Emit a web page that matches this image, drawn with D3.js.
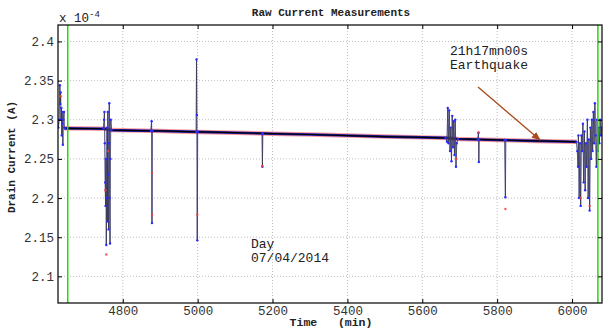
<!DOCTYPE html>
<html lang="en">
<head>
  <meta charset="UTF-8" />
  <title>Raw Current Measurements</title>
  <style>
    body { margin: 0; background: #fff; }
    svg { display: block; }
    text { font-family: "Liberation Mono", "DejaVu Sans Mono", monospace; fill: #222; }
    .grid line { stroke: #bdbdbd; stroke-dasharray: 1,2; stroke-width: 1; }
    .axis text { font-size: 12.5px; fill: #333; }
    .axis line { stroke: #000; }
  </style>
</head>
<body>
  <svg id="chart" width="604" height="329"></svg>

  <script src="https://d3js.org/d3.v7.min.js"></script>
  <script>
    const width = 604;
    const height = 329;
    const margin = { top: 25, right: 1, bottom: 26, left: 58 };

    // tick values (current in units of 1e-4 A)
    const xTicks = [4800, 5000, 5200, 5400, 5600, 5800, 6000];
    const yTicks = [2.1, 2.15, 2.2, 2.25, 2.3, 2.35, 2.4];
    const markerTimes = [4653, 6069]; // green vertical lines

    // slow drift of the trace
    const baseTime = [4644, 4700, 4750, 4770, 4800, 4900, 5000, 5100, 5200, 5300, 5400, 5500, 5600, 5665, 5695, 5800, 5900, 6000, 6012];
    const baseCurrent = [2.289, 2.2888, 2.2885, 2.2868, 2.2865, 2.2857, 2.2845, 2.2835, 2.2822, 2.2812, 2.2798, 2.2785, 2.2775, 2.2768, 2.2755, 2.2742, 2.2730, 2.2720, 2.2718];

    // bursts of raw samples [time, current]
    const burstStart = [[4628, 2.29], [4630, 2.30], [4632, 2.344], [4633, 2.32], [4634, 2.335], [4635, 2.30], [4636, 2.315], [4637, 2.28], [4638, 2.31], [4639, 2.295], [4640, 2.268], [4641, 2.30], [4643, 2.31], [4644, 2.29], [4646, 2.289]];
    const burst4760 = [[4748, 2.289], [4750, 2.30], [4751, 2.31], [4752, 2.27], [4753, 2.22], [4754, 2.19], [4755, 2.25], [4756, 2.14], [4757, 2.20], [4758, 2.29], [4759, 2.17], [4760, 2.31], [4761, 2.23], [4762, 2.16], [4763, 2.27], [4764, 2.321], [4765, 2.20], [4766, 2.142], [4767, 2.25], [4768, 2.30], [4770, 2.287]];
    const burst4877 = [[4875, 2.2858], [4877, 2.298], [4878, 2.168], [4879, 2.2857]];
    const burst4998 = [[4996, 2.2846], [4997, 2.377], [4998, 2.306], [4999, 2.146], [5000, 2.2845]];
    const burst5173 = [[5172, 2.2825], [5173, 2.24], [5174, 2.2825]];
    const burst5680 = [[5662, 2.2768], [5666, 2.272], [5668, 2.315], [5670, 2.27], [5672, 2.312], [5674, 2.26], [5676, 2.29], [5678, 2.247], [5680, 2.305], [5682, 2.265], [5684, 2.298], [5686, 2.255], [5688, 2.30], [5690, 2.24], [5692, 2.27], [5695, 2.2755]];
    const burst5750 = [[5748, 2.2748], [5750, 2.283], [5751, 2.246], [5752, 2.2747]];
    const burst5822 = [[5820, 2.2741], [5822, 2.201], [5823, 2.2740]];
    const burstEnd = [[6012, 2.2718], [6014, 2.26], [6016, 2.24], [6017, 2.28], [6019, 2.20], [6021, 2.27], [6023, 2.19], [6025, 2.28], [6027, 2.26], [6029, 2.295], [6031, 2.22], [6033, 2.285], [6035, 2.21], [6037, 2.27], [6039, 2.24], [6041, 2.30], [6043, 2.20], [6045, 2.275], [6047, 2.184], [6049, 2.29], [6051, 2.25], [6053, 2.30], [6055, 2.26], [6057, 2.31], [6059, 2.27], [6061, 2.321], [6063, 2.28], [6065, 2.24], [6067, 2.30], [6069, 2.26], [6071, 2.29], [6073, 2.27], [6075, 2.30], [6077, 2.28], [6079, 2.29]];
    const bursts = [burstStart, burst4760, burst4877, burst4998, burst5173, burst5680, burst5750, burst5822, burstEnd];

    // red samples that stick out of the bursts
    const redSamples = [[4756, 2.128], [4753, 2.21], [4761, 2.26], [4878, 2.179], [4878, 2.232], [4999, 2.179], [5173, 2.241], [5750, 2.284], [5822, 2.186], [5690, 2.25], [6047, 2.19], [6023, 2.20], [4634, 2.33]];

    const svg = d3.select("#chart");
    const x = d3.scaleLinear().domain([4627, 6080]).range([margin.left, width - margin.right - 1]);
    const y = d3.scaleLinear().domain([2.066, 2.421]).range([height - margin.bottom, margin.top]);

    const plotL = x.range()[0], plotR = x.range()[1];
    const plotT = y.range()[1], plotB = y.range()[0];

    // grid
    const grid = svg.append("g").attr("class", "grid");
    grid.selectAll(".gx").data(xTicks).enter().append("line")
      .attr("x1", d => x(d)).attr("x2", d => x(d)).attr("y1", plotT).attr("y2", plotB);
    grid.selectAll(".gy").data(yTicks).enter().append("line")
      .attr("x1", plotL).attr("x2", plotR).attr("y1", d => y(d)).attr("y2", d => y(d));

    svg.append("clipPath").attr("id", "clip").append("rect")
      .attr("x", plotL).attr("y", plotT).attr("width", plotR - plotL).attr("height", plotB - plotT);
    const plot = svg.append("g").attr("clip-path", "url(#clip)");

    const line = d3.line().x(d => x(d[0])).y(d => y(d[1]));
    const base = baseTime.map((t, i) => [t, baseCurrent[i]]);

    // thick band: red samples, blue samples, black mean
    plot.append("path").attr("d", line(base)).attr("fill", "none")
      .attr("stroke", "#ff4d4d").attr("stroke-width", 4.5).attr("opacity", 0.55);
    plot.append("path").attr("d", line(base)).attr("fill", "none")
      .attr("stroke", "#1c1ca8").attr("stroke-width", 2.6);
    plot.append("path").attr("d", line(base)).attr("fill", "none")
      .attr("stroke", "#000").attr("stroke-width", 1.2);

    bursts.forEach(b => {
      plot.append("path").attr("d", line(b)).attr("fill", "none")
        .attr("stroke", "#5a5aff").attr("stroke-width", 1).attr("opacity", 0.6);
      plot.append("path").attr("d", line(b)).attr("fill", "none")
        .attr("stroke", "#333").attr("stroke-width", 0.8).attr("opacity", 0.8);
      plot.append("g").selectAll("circle").data(b).enter().append("circle")
        .attr("cx", d => x(d[0])).attr("cy", d => y(d[1])).attr("r", 1.2)
        .attr("fill", "#2a2aff");
    });

    plot.append("g").selectAll("circle").data(redSamples).enter().append("circle")
      .attr("cx", d => x(d[0])).attr("cy", d => y(d[1])).attr("r", 1.2)
      .attr("fill", "#ff3a3a").attr("opacity", 0.85);

    // green markers
    svg.append("g").selectAll("line").data(markerTimes).enter().append("line")
      .attr("x1", d => x(d)).attr("x2", d => x(d)).attr("y1", plotT).attr("y2", plotB)
      .attr("stroke", "#22dd00").attr("stroke-width", 1.5);

    // axes with inward ticks
    const fmt = d => String(+d.toFixed(2));
    svg.append("g").attr("class", "axis").attr("transform", `translate(0,${plotB})`)
      .call(d3.axisBottom(x).tickValues(xTicks).tickSize(-4).tickSizeOuter(0).tickPadding(3).tickFormat(d3.format("d")))
      .call(g => g.select(".domain").remove())
      .selectAll("text").style("font-size", "12.5px");
    svg.append("g").attr("class", "axis").attr("transform", `translate(0,${plotT})`)
      .call(d3.axisTop(x).tickValues(xTicks).tickSize(-4).tickSizeOuter(0).tickFormat(""))
      .call(g => g.select(".domain").remove());
    svg.append("g").attr("class", "axis").attr("transform", `translate(${plotL},0)`)
      .call(d3.axisLeft(y).tickValues(yTicks).tickSize(-4).tickSizeOuter(0).tickPadding(4).tickFormat(fmt))
      .call(g => g.select(".domain").remove());
    svg.append("g").attr("class", "axis").attr("transform", `translate(${plotR},0)`)
      .call(d3.axisRight(y).tickValues(yTicks).tickSize(-4).tickSizeOuter(0).tickFormat(""))
      .call(g => g.select(".domain").remove());

    svg.append("rect").attr("x", plotL).attr("y", plotT)
      .attr("width", plotR - plotL).attr("height", plotB - plotT)
      .attr("fill", "none").attr("stroke", "#000").attr("stroke-width", 1.2);

    // exponent
    const ex = svg.append("text").attr("x", 59).attr("y", 22).style("font-size", "12.5px").attr("fill", "#333");
    ex.append("tspan").text("x 10");
    ex.append("tspan").attr("dy", -5).style("font-size", "9px").text("-4");

    // titles
    svg.append("text").attr("x", 331).attr("y", 325.5).attr("text-anchor", "middle")
      .style("font-size", "11.5px").style("font-weight", "bold").style("white-space", "pre")
      .text("Time   (min)");
    svg.append("text").attr("x", 331).attr("y", 16).attr("text-anchor", "middle")
      .style("font-size", "11px").style("font-weight", "bold").text("Raw Current Measurements");
    svg.append("text").attr("transform", "translate(15,157) rotate(-90)").attr("text-anchor", "middle")
      .style("font-size", "11px").style("font-weight", "bold").text("Drain Current (A)");

    // annotations
    const note = svg.append("text").attr("text-anchor", "middle").style("font-size", "13px").attr("fill", "#333");
    note.append("tspan").attr("x", 489).attr("y", 55).text("21h17mn00s");
    note.append("tspan").attr("x", 489).attr("y", 69).text("Earthquake");

    const day = svg.append("text").style("font-size", "13px").attr("fill", "#333");
    day.append("tspan").attr("x", 251).attr("y", 248).text("Day");
    day.append("tspan").attr("x", 251).attr("y", 262).text("07/04/2014");

    // arrow
    svg.append("defs").append("marker").attr("id", "head")
      .attr("viewBox", "0 0 10 10").attr("refX", 9).attr("refY", 5)
      .attr("markerWidth", 7).attr("markerHeight", 7).attr("orient", "auto")
      .append("path").attr("d", "M0,1 L10,5 L0,9 Z").attr("fill", "#a84a1c");
    svg.append("line").attr("x1", 478).attr("y1", 87).attr("x2", 540).attr("y2", 140)
      .attr("stroke", "#a84a1c").attr("stroke-width", 1.3).attr("marker-end", "url(#head)");
  </script>
</body>
</html>
